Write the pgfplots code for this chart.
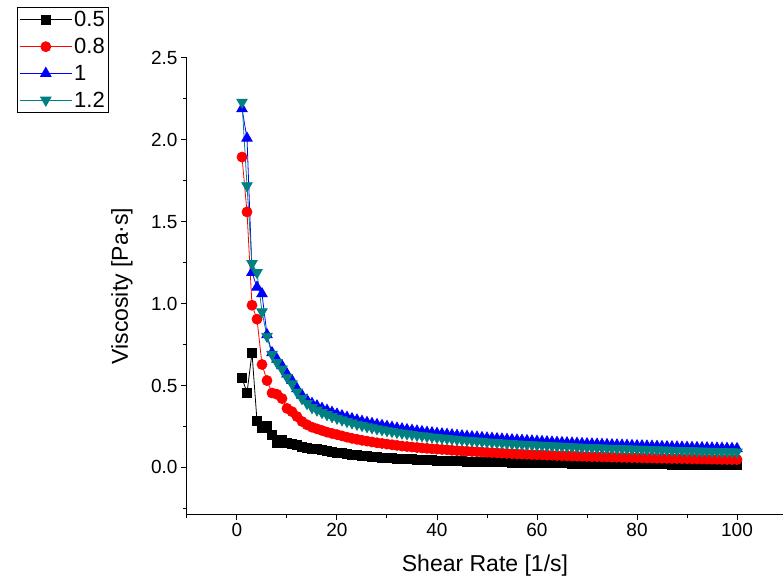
\documentclass[border=0pt]{standalone}
\usepackage{pgfplots}
\pgfplotsset{compat=1.18}
\usepackage{pgfplotstable}
\usepackage{fontspec}
\setmainfont{Liberation Sans}
\usetikzlibrary{calc}

\definecolor{origteal}{RGB}{0,128,128}

% shear rate, viscosity for 0.5, 0.8, 1, 1.2
\pgfplotstableread{
x a b c d
1 0.546 1.895 2.19 2.23
2 0.454 1.56 2.01 1.72
3 0.699 0.99 1.19 1.245
4 0.283 0.905 1.10 1.19
5 0.238 0.628 1.06 0.95
6 0.252 0.53 0.81 0.80
7 0.200 0.454 0.70 0.69
8 0.150 0.446 0.66 0.64
9 0.165 0.42 0.62 0.60
10 0.150 0.36 0.57 0.55
11 0.142 0.34 0.53 0.51
12 0.134 0.31 0.48 0.46
13 0.127 0.28 0.44 0.42
14 0.121 0.26 0.41 0.39
15 0.115 0.245 0.39 0.365
16 0.110 0.235 0.375 0.35
17 0.105 0.225 0.36 0.335
18 0.100 0.215 0.348 0.322
19 0.095 0.207 0.336 0.31
20 0.090 0.200 0.325 0.30
21 0.0855 0.192 0.315 0.290
22 0.0810 0.184 0.3055 0.2801
23 0.0773 0.177 0.297 0.2716
24 0.0736 0.171 0.2887 0.2631
25 0.0705 0.165 0.281 0.2558
26 0.0674 0.160 0.2740 0.2484
27 0.0648 0.155 0.2676 0.2419
28 0.0622 0.150 0.2612 0.2354
29 0.0599 0.146 0.2555 0.2297
30 0.0576 0.142 0.2497 0.2240
31 0.0556 0.138 0.2446 0.2190
32 0.0537 0.134 0.2394 0.2139
33 0.0519 0.130 0.2348 0.2094
34 0.0502 0.127 0.2302 0.2048
35 0.0486 0.124 0.2260 0.2007
36 0.0471 0.121 0.2218 0.1965
37 0.0457 0.118 0.2180 0.1928
38 0.0444 0.116 0.2141 0.1890
39 0.0432 0.113 0.2106 0.1856
40 0.0420 0.111 0.2071 0.1821
41 0.0410 0.109 0.2040 0.1791
42 0.0400 0.107 0.2010 0.1762
43 0.0389 0.104 0.1979 0.1732
44 0.0379 0.102 0.1949 0.1703
45 0.0369 0.100 0.1918 0.1673
46 0.0361 0.0984 0.1893 0.1649
47 0.0353 0.0967 0.1867 0.1624
48 0.0345 0.0951 0.1842 0.1600
49 0.0337 0.0935 0.1816 0.1575
50 0.0329 0.0918 0.1791 0.1551
51 0.0322 0.0901 0.1770 0.1530
52 0.0316 0.0884 0.1748 0.1510
53 0.0309 0.0867 0.1727 0.1489
54 0.0303 0.0851 0.1705 0.1469
55 0.0296 0.0835 0.1684 0.1448
56 0.0291 0.0822 0.1665 0.1430
57 0.0285 0.0809 0.1647 0.1413
58 0.0280 0.0796 0.1628 0.1395
59 0.0274 0.0783 0.1610 0.1378
60 0.0269 0.0770 0.1591 0.1360
61 0.0264 0.0759 0.1575 0.1345
62 0.0260 0.0748 0.1559 0.1330
63 0.0255 0.0737 0.1543 0.1314
64 0.0251 0.0726 0.1527 0.1299
65 0.0246 0.0715 0.1511 0.1284
66 0.0242 0.0705 0.1497 0.1271
67 0.0238 0.0696 0.1482 0.1257
68 0.0235 0.0686 0.1468 0.1244
69 0.0231 0.0677 0.1453 0.1230
70 0.0227 0.0667 0.1439 0.1217
71 0.0224 0.0659 0.1426 0.1205
72 0.0220 0.0650 0.1414 0.1194
73 0.0217 0.0642 0.1401 0.1182
74 0.0213 0.0633 0.1389 0.1171
75 0.0210 0.0625 0.1376 0.1158
76 0.0207 0.0618 0.1365 0.1148
77 0.0204 0.0610 0.1354 0.1137
78 0.0202 0.0603 0.1342 0.1127
79 0.0199 0.0595 0.1331 0.1116
80 0.0196 0.0588 0.1320 0.1106
81 0.0193 0.0581 0.1310 0.1096
82 0.0191 0.0575 0.1300 0.1087
83 0.0188 0.0568 0.1289 0.1077
84 0.0186 0.0562 0.1279 0.1068
85 0.0183 0.0555 0.1269 0.1058
86 0.0181 0.0549 0.1260 0.1050
87 0.0179 0.0543 0.1251 0.1041
88 0.0176 0.0537 0.1241 0.1033
89 0.0174 0.0531 0.1232 0.1024
90 0.0172 0.0525 0.1223 0.1016
91 0.0170 0.0519 0.1214 0.1008
92 0.0168 0.0514 0.1206 0.1000
93 0.0166 0.0508 0.1197 0.0993
94 0.0164 0.0503 0.1189 0.0985
95 0.0162 0.0497 0.1180 0.0977
96 0.0160 0.0492 0.1172 0.0970
97 0.0158 0.0487 0.1165 0.0963
98 0.0157 0.0482 0.1157 0.0956
99 0.0155 0.0477 0.1150 0.0949
100 0.0153 0.0472 0.1142 0.0942
}\visc

\begin{document}
\begin{tikzpicture}
\begin{axis}[
  name=ax,
  scale only axis,
  width=596bp, height=456bp,
  xmin=-10, xmax=109.2,
  ymin=-0.285, ymax=2.5,
  axis x line*=bottom, axis y line*=left,
  axis line style={-, line width=1bp},
  xtick={0,20,...,100},
  minor xtick={-10,10,30,50,70,90},
  ytick={0,0.5,...,2.5},
  minor ytick={-0.25,0.25,0.75,1.25,1.75,2.25},
  tick align=outside,
  major tick length=6bp, minor tick length=4bp,
  every tick/.style={black, line width=1bp},
  /pgf/number format/assume math mode=true,
  yticklabel style={/pgf/number format/fixed, /pgf/number format/fixed zerofill, /pgf/number format/precision=1},
  tick label style={font=\fontsize{19bp}{22bp}\selectfont},
  xlabel={Shear Rate [1/s]},
  ylabel={Viscosity [Pa·s]},
  label style={font=\fontsize{23bp}{26bp}\selectfont},
  x label style={at={(axis description cs:0.5,-0.114)}, anchor=center},
  y label style={at={(axis description cs:-0.109,0.5)}, anchor=center},
  legend cell align=left,
  legend style={at={(axis description cs:-0.2852,1.1118)}, anchor=north west,
    draw=black, line width=0.8bp, font=\fontsize{22bp}{25bp}\selectfont,
    inner xsep=2bp, inner ysep=2bp, row sep=6bp},
  legend image code/.code={
    \draw[mark repeat=2, mark phase=2] plot coordinates {(0bp,0bp) (26bp,0bp) (52bp,0bp)};},
  every axis plot/.append style={line width=0.8bp},
]
\addplot[black, mark=square*, mark size=4.5bp, mark options={solid, fill=black}] table[x=x, y=a] {\visc};
\addlegendentry{0.5}
\addplot[red, mark=*, mark size=5bp, mark options={solid, fill=red}] table[x=x, y=b] {\visc};
\addlegendentry{0.8}
\addplot[blue, mark=triangle*, mark size=6bp, mark options={solid, fill=blue}] table[x=x, y=c] {\visc};
\addlegendentry{1}
\addplot[origteal, mark=triangle*, mark size=6bp, mark options={solid, fill=origteal, rotate=180}] table[x=x, y=d] {\visc};
\addlegendentry{1.2}
\end{axis}
\pgfresetboundingbox
\path[use as bounding box] ($(ax.south west)+(-187bp,-68bp)$) rectangle ($(ax.north east)+(0bp,58bp)$);
\end{tikzpicture}
\end{document}
